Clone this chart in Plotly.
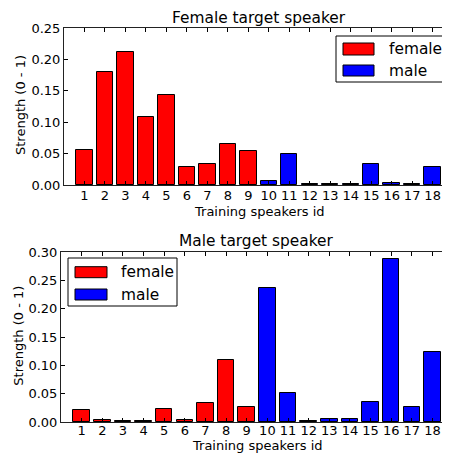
import plotly.graph_objects as go
from plotly.subplots import make_subplots

speaker_ids = list(range(1, 18 + 1))
tick_labels = [str(i) for i in speaker_ids]
female_ids = [1, 2, 3, 4, 5, 6, 7, 8, 9]
male_ids = [10, 11, 12, 13, 14, 15, 16, 17, 18]

# Strength per training speaker, female target speaker
female_target_female = [0.055, 0.180, 0.211, 0.109, 0.144, 0.029, 0.033, 0.066, 0.054]
female_target_male = [0.006, 0.050, 0.001, 0.001, 0.001, 0.033, 0.003, 0.001, 0.028]
# Strength per training speaker, male target speaker
male_target_female = [0.022, 0.003, 0.001, 0.002, 0.023, 0.004, 0.034, 0.110, 0.027]
male_target_male = [0.236, 0.051, 0.001, 0.006, 0.006, 0.035, 0.287, 0.027, 0.124]

titles = ["Female target speaker", "Male target speaker"]
x_title = "Training speakers id"
y_title = "Strength (0 - 1)"
legend_names = ["female", "male"]
RED = "#ff0000"
BLUE = "#0000ff"
FONT = "DejaVu Sans"

# The page body has an 8px default margin; the figure is sized to the visible area.
OFF = 8
W, H = 450 - OFF, 453 - OFF
def px(x):
    return (x - OFF) / W
def py(y):
    return 1 - (y - OFF) / H

fig = make_subplots(rows=2, cols=1)

for row, (fv, mv) in enumerate([(female_target_female, female_target_male),
                                 (male_target_female, male_target_male)], start=1):
    fig.add_trace(go.Bar(x=female_ids, y=fv, width=0.8, name=legend_names[0],
                         marker=dict(color=RED, line=dict(color="black", width=1)),
                         showlegend=False), row=row, col=1)
    fig.add_trace(go.Bar(x=male_ids, y=mv, width=0.8, name=legend_names[1],
                         marker=dict(color=BLUE, line=dict(color="black", width=1)),
                         showlegend=False), row=row, col=1)

axis_common = dict(showgrid=False, zeroline=False, showline=True, linecolor="#222222",
                   linewidth=1, mirror="ticks", ticks="inside", ticklen=4,
                   tickcolor="black", tickwidth=1, automargin=False,
                   tickfont=dict(family=FONT, size=13, color="black"))

fig.update_xaxes(**axis_common, range=[0, 18.8], tickmode="array",
                 tickvals=speaker_ids, ticktext=tick_labels)
fig.update_yaxes(**axis_common)

fig.update_layout(
    xaxis=dict(domain=[px(64), px(449)], ticklabelstandoff=-2),
    yaxis=dict(domain=[py(185), py(28)], range=[0, 0.25], tickvals=[0, 0.05, 0.10, 0.15, 0.20, 0.25],
               ticktext=["0.00", "0.05", "0.10", "0.15", "0.20", "0.25"]),
    xaxis2=dict(domain=[px(61), px(449)], ticklabelstandoff=-4),
    yaxis2=dict(domain=[py(422), py(252)], range=[0, 0.30],
                tickvals=[0, 0.05, 0.10, 0.15, 0.20, 0.25, 0.30],
                ticktext=["0.00", "0.05", "0.10", "0.15", "0.20", "0.25", "0.30"]),
)

ann = []
def text_at(t, x, y, size, angle=0, xanchor="center"):
    ann.append(dict(text=t, x=px(x), y=py(y), xref="paper", yref="paper",
                    xanchor=xanchor, yanchor="middle", textangle=angle,
                    showarrow=False, font=dict(family=FONT, size=size, color="black")))

# Titles
text_at(titles[0], 259, 18, 15.4)
text_at(titles[1], 256, 241, 15.4)
# Axis titles
text_at(x_title, 259, 211, 13)
text_at(x_title, 257, 445, 13)
text_at(y_title, 20, 105, 13, angle=-90)
text_at(y_title, 17.7, 336, 13, angle=-90)

shapes = []
# Legends (box, patches, labels)
legends = [
    dict(box=(336, 36, 445, 82), patches=[(343, 43, 374, 55), (343, 65, 374, 76)], tx=387),
    dict(box=(68, 258, 177, 306), patches=[(75, 266.7, 107, 277.7), (75, 289, 107, 300)], tx=119),
]
for lg in legends:
    x0, y0, x1, y1 = lg["box"]
    shapes.append(dict(type="rect", xref="paper", yref="paper", x0=px(x0), x1=px(x1),
                       y0=py(y1), y1=py(y0), line=dict(color="black", width=1),
                       fillcolor="white", layer="above"))
    for (a0, b0, a1, b1), col, name in zip(lg["patches"], [RED, BLUE], legend_names):
        shapes.append(dict(type="rect", xref="paper", yref="paper", x0=px(a0), x1=px(a1),
                           y0=py(b1), y1=py(b0), line=dict(color="black", width=1),
                           fillcolor=col, layer="above"))
        text_at(name, lg["tx"], (b0 + b1) / 2, 15.4, xanchor="left")

fig.update_layout(
    width=W, height=H,
    margin=dict(l=0, r=0, t=0, b=0),
    paper_bgcolor="white", plot_bgcolor="white",
    bargap=0, barmode="overlay",
    annotations=ann, shapes=shapes,
    showlegend=False,
)

fig.write_html("out.html")
